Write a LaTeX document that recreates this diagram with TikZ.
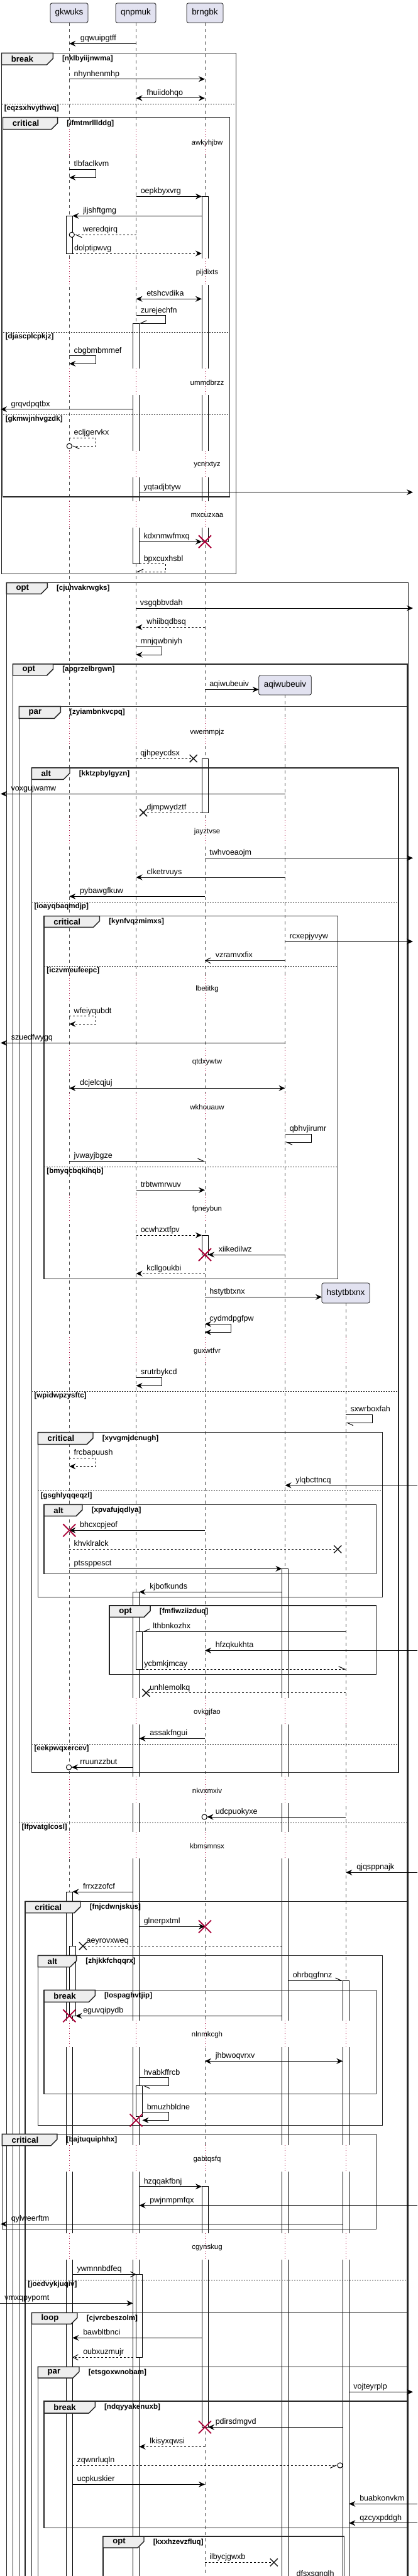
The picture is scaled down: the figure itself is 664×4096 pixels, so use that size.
\documentclass[tikz,border=0pt]{standalone}
\usepackage{fontspec}
\setmainfont{Liberation Sans}
\usetikzlibrary{arrows.meta}
\definecolor{partfill}{HTML}{E2E2F0}
\definecolor{partline}{HTML}{181818}
\definecolor{tabfill}{HTML}{EEEEEE}
\definecolor{xred}{HTML}{A80036}
\newcommand\fmsg{\fontsize{9.4pt}{11pt}\selectfont}
\newcommand\fpart{\fontsize{10.1pt}{12pt}\selectfont}
\newcommand\fdly{\fontsize{8.6pt}{10pt}\selectfont}
\newcommand\fkw{\bfseries\fontsize{9.9pt}{12pt}\selectfont}
\newcommand\fgd{\bfseries\fontsize{8.7pt}{10pt}\selectfont}
\def\xG{110.3}\def\xQ{216.5}\def\xB{326}\def\xA{453.5}\def\xH{550.3}
\tikzset{
 sm/.style={line width=0.75pt, draw=black},
 dm/.style={sm, dash pattern=on 2.25pt off 2.25pt},
 af/.style={-{Stealth[length=7.5pt,width=6.75pt,inset=2.6pt]}},
 ab/.style={{Stealth[length=7.5pt,width=6.75pt,inset=2.6pt]}-{Stealth[length=7.5pt,width=6.75pt,inset=2.6pt]}},
 ao/.style={-{Straight Barb[length=6pt,width=6.5pt]}},
 ahl/.style={-{Straight Barb[left,length=7pt,width=6.5pt]}},
 ahr/.style={-{Straight Barb[right,length=7pt,width=6.5pt]}},
 lb/.style={anchor=base west, inner sep=0pt, font=\fmsg},
 part/.style={draw=partline, fill=partfill, line width=0.6pt, rounded corners=2pt, font=\fpart, inner sep=0pt},
 life/.style={draw=black!70, line width=0.45pt, dash pattern=on 3.75pt off 3.75pt},
 actb/.style={draw=black, fill=white, line width=0.75pt},
 dotl/.style={draw=xred, line width=0.7pt, dash pattern=on 0.75pt off 2.25pt},
 dlt/.style={font=\fdly, inner sep=0pt},
 frameb/.style={draw=black!85, line width=1.1pt},
 tabs/.style={draw=black!85, fill=tabfill, line width=1.1pt},
 kwf/.style={font=\fkw, inner sep=0pt},
 gdf/.style={font=\fgd, inner sep=0pt},
 sepl/.style={draw=black!85, line width=0.6pt, dash pattern=on 1.5pt off 1.5pt},
 redx/.style={draw=xred, line width=1.4pt},
 blkx/.style={draw=black!90, line width=1.1pt},
 circ/.style={draw=black, line width=0.75pt, fill=white}
}
\newcommand\msgx[6]{\draw[#1] (#2,#4) -- (#3,#4); \node[lb] (m-#6) at (#5,#4-4.5) {#6};}
\newcommand\selfm[7]{\draw[#1] (#2,#3) -- (#4,#3) -- (#4,#5) -- (#6,#5); \node[lb] (m-#7) at (#2+7,#3-4.5) {#7};}
\newcommand\actv[3]{\filldraw[actb] (#1-5,#2) rectangle (#1+5,#3);}
\newcommand\dly[3]{\foreach \xx in {#3}{\fill[white] (\xx-6,#1-22) rectangle (\xx+11,#1+20); \draw[dotl] (\xx,#1-22) -- (\xx,#1+20);}
 \node[dlt] (d-#2) at (329.5,#1) {#2};}
\newcommand\frm[8]{\draw[frameb] (#1,#2) rectangle (#3,#4);
 \filldraw[tabs] (#1,#2) -- (#5,#2) -- (#5,#6-10) -- (#5-10,#6) -- (#1,#6) -- cycle;
 \node[kwf, anchor=west] (k-#8) at (#1+15,{(#2+#6)/2}) {#7};
 \node[gdf, anchor=west] (g-#8) at (#5+14.5,{(#2+#6)/2}) {[#8]};}
\newcommand\sepr[4]{\draw[sepl] (#1,#3) -- (#2,#3); \node[gdf, anchor=west] (s-#4) at (#1+4,#3+7.5) {[#4]};}
\newcommand\Rx[2]{\draw[redx] (#1,#2) +(-10,-10) -- +(10,10) +(-10,10) -- +(10,-10);}
\newcommand\Bx[2]{\draw[blkx] (#1,#2) +(-6,-6) -- +(6,6) +(-6,6) -- +(6,-6);}
\newcommand\cend[2]{\draw[circ] (#1,#2) circle[radius=3.1pt];}
\begin{document}
\begin{tikzpicture}[x=0.75pt,y=-0.75pt]
\useasboundingbox (0,0) rectangle (664,4096);
\clip (0,0) rectangle (664,4096);
% lifelines
\draw[life] (\xG,36) -- (\xG,4120);
\draw[life] (\xQ,36) -- (\xQ,4120);
\draw[life] (\xB,36) -- (\xB,4120);
\draw[life] (\xA,1105) -- (\xA,4120);
\draw[life] (\xH,2072) -- (\xH,4120);
% participants
\node[part, minimum width=45pt, minimum height=23.25pt] (pG) at (110,20.5) {gkwuks};
\node[part, minimum width=48pt, minimum height=23.25pt] (pQ) at (216,20.5) {qnpmuk};
\node[part, minimum width=43.5pt, minimum height=23.25pt] (pB) at (326,20.5) {brngbk};
\node[part, minimum width=62.7pt, minimum height=23.25pt] (pA) at (453.5,1089.5) {aqiwubeuiv};
\node[part, minimum width=57pt, minimum height=24pt] (pH) at (550,2056) {hstytbtxnx};
% activations
\actv{\xB}{312.3}{861.3}
\actv{\xG}{343.3}{403}
\actv{\xQ}{514}{896.7}
\actv{\xB}{1206}{1292}
\actv{\xB}{1964}{1995}
\actv{\xA}{2494.3}{4120}
\actv{\xQ}{2531.3}{4120}
\actv{\xQ+5}{2594.3}{2654}
\actv{\xG}{3008}{4120}
\actv{\xG+5}{3094.3}{3205.3}
\actv{\xH}{3149.3}{4120}
\actv{\xQ+5}{3316.3}{3365}
\actv{\xB}{3476.7}{3859.3}
\actv{\xQ+5}{3616.3}{3748.3}
% delays
\dly{227.3}{awkyhjbw}{\xG,\xQ,\xB}
\dly{433.3}{pijdixts}{\xG,\xQ,\xB}
\dly{608.3}{ummdbrzz}{\xG,\xQ,\xB}
\dly{739.3}{ycnrxtyz}{\xG,\xQ,\xB}
\dly{819.3}{mxcuzxaa}{\xG,\xQ,\xB}
\dly{1164.3}{vwemmpjz}{\xG,\xQ,\xB,\xA}
\dly{1322.3}{jayztvse}{\xG,\xQ,\xB,\xA}
\dly{1572.7}{lbetitkg}{\xG,\xQ,\xB,\xA}
\dly{1688.3}{qtdxywtw}{\xG,\xQ,\xB,\xA}
\dly{1760}{wkhouauw}{\xG,\xQ,\xB,\xA}
\dly{1922.3}{fpneybun}{\xG,\xQ,\xB,\xA}
\dly{2148.3}{guxwtfvr}{\xG,\xQ,\xB,\xA,\xH}
\dly{2722.3}{ovkgjfao}{\xG,\xQ,\xB,\xA,\xH}
\dly{2847}{nkvxmxiv}{\xG,\xQ,\xB,\xA,\xH}
\dly{2935}{kbmsmnsx}{\xG,\xQ,\xB,\xA,\xH}
\dly{3235}{nlnmkcgh}{\xG,\xQ,\xB,\xA,\xH}
\dly{3433.3}{gabtqsfq}{\xG,\xQ,\xB,\xA,\xH}
\dly{3573.3}{cgynskug}{\xG,\xQ,\xB,\xA,\xH}
% frames
\frm{2.5}{84.3}{375.7}{912.3}{84.3}{103}{break}{nklbyiijnwma}
\sepr{2.5}{375.7}{165.3}{eqzsxhvythwq}
\frm{4.5}{186.7}{365.7}{790}{91.7}{205.7}{critical}{ifmtmrlllddg}
\sepr{4.5}{365.7}{528.3}{djascplcpkjz}
\sepr{4.5}{365.7}{659.3}{gkmwjnhvgzdk}
\frm{10.3}{926.7}{649.5}{4120}{75.3}{944.3}{opt}{cjuhvakrwgks}
\frm{20.3}{1056}{648}{4120}{84.5}{1074}{opt}{apgrzelbrgwn}
\frm{30.4}{1123.3}{648}{4120}{96.4}{1142.3}{par}{zyiambnkvcpq}
\sepr{30.4}{648}{2898}{lfpvatglcosl}
\frm{50.3}{1221}{634}{2818.3}{111}{1239.3}{alt}{kktzpbylgyzn}
\sepr{50.3}{634}{1434.3}{ioayqbaqmdjp}
\sepr{50.3}{634}{2212.3}{wpidwpzysftc}
\sepr{50.3}{634}{2773.3}{eekpwqxercev}
\frm{70.2}{1456.7}{537.6}{2033.3}{158.5}{1474.3}{critical}{kynfvqzmimxs}
\sepr{70.2}{537.6}{1536.3}{iczvmeufeepc}
\sepr{70.2}{537.6}{1855.3}{bmyqcbqkihqb}
\frm{60.4}{2277.7}{608.6}{2539.3}{148}{2296.7}{critical}{xyvgmjdcnugh}
\sepr{60.4}{608.6}{2370.7}{gsghlyqqeqzl}
\frm{70.2}{2392.3}{598.5}{2502.3}{131}{2410.7}{alt}{xpvafujqdlya}
\frm{174.1}{2553}{598.5}{2662.3}{239.2}{2571.3}{opt}{fmfiwziizduq}
\frm{40.2}{3023.3}{648}{4120}{128}{3041.7}{critical}{fnjcdwnjskus}
\sepr{40.2}{648}{3625.3}{joedvykjuqiv}
\frm{60.4}{3109.3}{608.6}{3379.3}{121.7}{3127.7}{alt}{zhjkkfchqqrx}
\frm{70.2}{3164.3}{598.5}{3329.3}{151.3}{3183.3}{break}{lospaghvtjip}
\frm{3.4}{3393.3}{598.5}{3544.7}{90.9}{3411.7}{critical}{bajtuquiphhx}
\frm{50.3}{3677.3}{648}{4120}{123}{3695.3}{loop}{cjvrcbeszolm}
\frm{60.4}{3763.3}{648}{4120}{126}{3781}{par}{etsgoxwnobam}
\frm{70.2}{3818}{648}{4019.3}{151.3}{3837}{break}{ndqyyakenuxb}
\frm{164}{4033}{547.3}{4120}{229}{4051}{opt}{kxxhzevzfluq}
% messages
\msgx{sm,af}{\xQ}{\xG}{69.3}{127.7}{gqwuipgtff}
\msgx{sm,af}{\xG}{\xB}{125.7}{117.3}{nhynhenmhp}
\msgx{sm,ab}{\xB}{\xQ}{156}{233}{fhuiidohqo}
\selfm{sm,af}{\xG}{269.3}{152.3}{282.3}{\xG}{tlbfaclkvm}
\msgx{sm,af}{\xQ}{321}{312.3}{223.5}{oepkbyxvrg}
\msgx{sm,af}{321}{115.3}{343.3}{132}{jljshftgmg}
\msgx{dm,ahl}{\xQ}{118.6}{373.3}{131.7}{weredqirq}
\cend{114.3}{373.3}
\msgx{dm,af}{115.3}{321}{403}{117.8}{dolptipwvg}
\msgx{sm,ab}{321}{\xQ}{475.3}{233}{etshcvdika}
\selfm{sm,ahr}{\xQ}{501.7}{263.3}{514}{221.5}{zurejechfn}
\selfm{sm,af}{\xG}{565.7}{152.3}{578.3}{\xG}{cbgbmbmmef}
\msgx{sm,af}{211.5}{1}{650.7}{17.3}{grqvdpqtbx}
\selfm{dm,ahl}{\xG}{696}{152.3}{709.3}{114.6}{ecljgervkx}
\cend{\xG}{709.3}
\msgx{sm,af}{221.5}{657}{782.7}{228.3}{yqtadjbtyw}
\msgx{sm,af}{221.5}{321}{861.3}{228.3}{kdxnmwfmxq}
\Rx{\xB}{861.3}
\selfm{dm,ahr}{221.5}{896.7}{263.3}{909.3}{\xQ}{bpxcuxhsbl}
\msgx{sm,af}{\xQ}{657}{967}{222.7}{vsgqbbvdah}
\msgx{dm,af}{\xB}{\xQ}{997.3}{233}{whiibqdbsq}
\selfm{sm,af}{\xQ}{1028.3}{257.8}{1041}{\xQ}{mnjqwbniyh}
\msgx{sm,af}{\xB}{411.7}{1096.3}{333}{aqiwubeuiv}
\msgx{dm}{\xQ}{307.7}{1206}{223}{qjhpeycdsx}
\Bx{307.7}{1206}
\msgx{sm,af}{\xA}{1}{1262.3}{17.3}{voxgujwamw}
\msgx{dm}{321}{228}{1292}{233.3}{djmpwydztf}
\Bx{228}{1292}
\msgx{sm,af}{\xB}{657}{1364.3}{333}{twhvoeaojm}
\msgx{sm,af}{\xA}{\xQ}{1395}{233.3}{clketrvuys}
\msgx{sm,af}{\xB}{\xG}{1425.3}{126.8}{pybawgfkuw}
\msgx{sm,af}{\xA}{657}{1497}{460.5}{rcxepjyvyw}
\msgx{sm,ao}{\xA}{\xB}{1527.3}{342.5}{vzramvxfix}
\selfm{dm,af}{\xG}{1615.7}{152.2}{1628.3}{\xG}{wfeiyqubdt}
\msgx{sm,af}{\xA}{1}{1658.3}{17.5}{szuedfwygq}
\msgx{sm,ab}{\xG}{\xA}{1730.3}{126.8}{dcjelcqjuj}
\selfm{sm,ahl}{\xA}{1803.3}{495.3}{1816}{\xA}{qbhvjirumr}
\msgx{sm,ahl}{\xG}{\xB}{1846.3}{117.3}{jvwayjbgze}
\msgx{sm,af}{\xQ}{\xB}{1892.3}{223.5}{trbtwmrwuv}
\msgx{dm,af}{\xQ}{321}{1964}{223.5}{ocwhzxtfpv}
\msgx{sm,af}{\xA}{331}{1995}{347.5}{xiikedilwz}
\Rx{\xB}{1995}
\msgx{dm,af}{\xB}{\xQ}{2025}{233}{kcllgoukbi}
\msgx{sm,af}{\xB}{512}{2062.3}{333}{hstytbtxnx}
\selfm{sm,ab}{\xB}{2105.3}{367.7}{2118.3}{\xB}{cydmdpgfpw}
\selfm{sm,af}{\xQ}{2190.3}{257.8}{2203.3}{\xQ}{srutrbykcd}
\selfm{sm,ahl}{\xH}{2249.3}{592.6}{2262.3}{\xH}{sxwrboxfah}
\selfm{dm,af}{\xG}{2318.3}{152.2}{2331.7}{\xG}{frcbapuush}
\msgx{sm,af}{664}{\xA}{2361.7}{470}{ylqbcttncq}
\msgx{sm,af}{\xB}{\xG}{2433.3}{126.8}{bhcxcpjeof}
\Rx{\xG}{2433.3}
\msgx{dm}{\xG}{537.2}{2463.3}{117.3}{khvklralck}
\Bx{537.2}{2463.3}
\msgx{sm,af}{\xG}{448.5}{2494.3}{117.3}{ptssppesct}
\msgx{sm,af}{448.5}{221.5}{2531.3}{238}{kjbofkunds}
\msgx{sm,ahr}{\xH}{226.5}{2594.3}{243}{lthbnkozhx}
\msgx{sm,af}{664}{\xB}{2624.3}{342.5}{hfzqkukhta}
\msgx{dm,ahl}{226.5}{\xH}{2654}{229}{ycbmkjmcay}
\msgx{dm}{\xH}{232.5}{2691.7}{238}{unhlemolkq}
\Bx{232.5}{2691.7}
\msgx{sm,af}{\xB}{221.5}{2764.3}{238}{assakfngui}
\msgx{sm,af}{211.5}{114}{2810}{127}{rruunzzbut}
\cend{109.6}{2810}
\msgx{sm,af}{\xH}{329.5}{2889}{342.5}{udcpuokyxe}
\cend{325.2}{2889}
\msgx{sm,af}{664}{\xH}{2977.3}{567}{qjqsppnajk}
\msgx{sm,af}{211.5}{115.3}{3008}{131.8}{frrxzzofcf}
\msgx{sm,af}{221.5}{\xB}{3063.3}{228.5}{glnerpxtml}
\Rx{\xB}{3063.3}
\msgx{dm}{448.5}{131.9}{3094.3}{137.4}{aeyrovxweq}
\Bx{131.9}{3094.3}
\msgx{sm,ahl}{458.5}{545.3}{3149.3}{465.5}{ohrbqgfnnz}
\msgx{sm,af}{448.5}{120.3}{3205.3}{132}{eguvqipydb}
\Rx{\xG}{3205.3}
\msgx{sm,ab}{\xB}{545.3}{3277.3}{342.5}{jhbwoqvrxv}
\selfm{sm,ahl}{221.5}{3303.7}{268}{3316.3}{226.5}{hvabkffrcb}
\selfm{sm,af}{226.5}{3358.7}{268}{3371.3}{226.5}{bmuzhbldne}
\Rx{\xQ}{3371.3}
\msgx{sm,af}{221.5}{321}{3476.7}{228.5}{hzqqakfbnj}
\msgx{sm,af}{664}{221.5}{3506.7}{238}{pwjnmpmfqx}
\msgx{sm,af}{545.3}{1}{3536.3}{17.5}{qylweerftm}
\msgx{sm,ao}{115.3}{216.5}{3616.3}{122.3}{ywmnnbdfeq}
\msgx{sm,af}{0}{211.5}{3662.3}{7}{vmxqpypomt}
\msgx{sm,af}{321}{115.3}{3717.3}{132}{bawbltbnci}
\msgx{dm,ao}{211.5}{115.3}{3748.3}{132}{oubxuzmujr}
\msgx{sm,af}{555.3}{657}{3803.3}{562}{vojteyrplp}
\msgx{sm,af}{545.3}{331}{3859.3}{342.5}{pdirsdmgvd}
\Rx{\xB}{3859.3}
\msgx{dm,af}{\xB}{221.5}{3890.3}{238}{lkisyxqwsi}
\msgx{dm,ahr}{115.3}{537}{3920}{122.3}{zqwnrluqln}
\cend{541}{3920}
\msgx{sm,af}{115.3}{\xB}{3950.3}{122.3}{ucpkuskier}
\msgx{sm,af}{664}{555.3}{3981.3}{572}{buabkonvkm}
\msgx{sm,af}{664}{555.3}{4011.7}{572}{qzcyxpddgh}
\msgx{dm}{\xB}{435.8}{4074.3}{333}{ilbycjgwxb}
\Bx{435.8}{4074.3}
\node[lb] (m-dfsxsgnqlh) at (471.3,4096) {dfsxsgnqlh};
\end{tikzpicture}
\end{document}
